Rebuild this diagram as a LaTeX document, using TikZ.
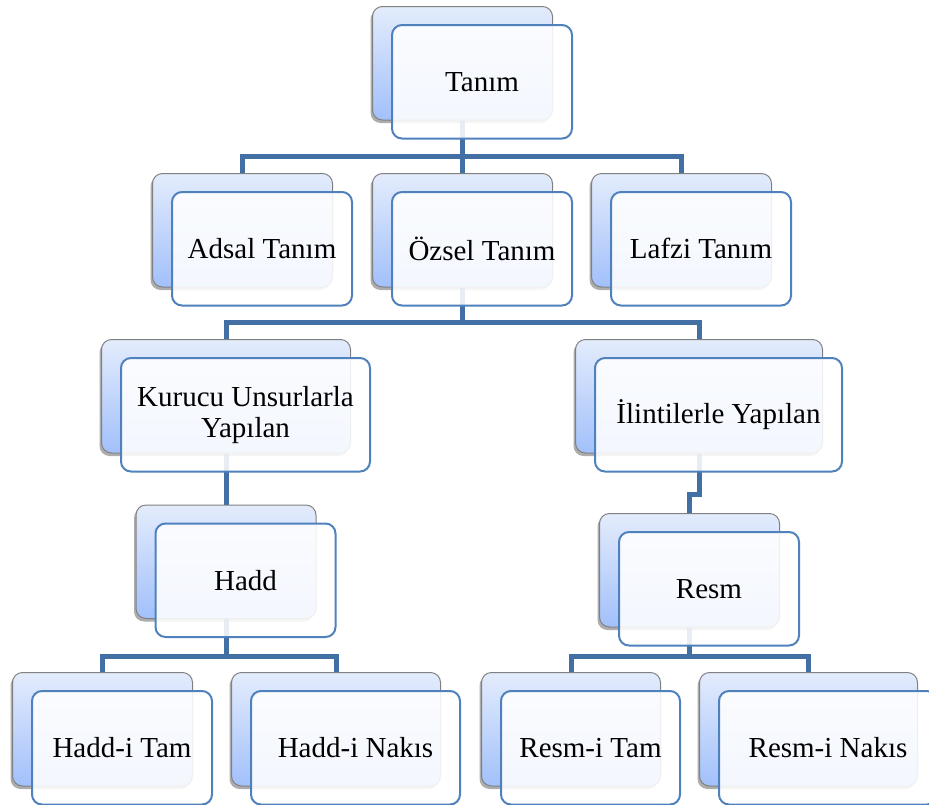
\documentclass[tikz,border=0pt]{standalone}
\usepackage{fontspec}
\setmainfont{Liberation Serif}
\newfontfamily\tnrfont{Liberation Serif}
\usetikzlibrary{shadows,calc}
\pgfdeclarelayer{bg}
\pgfsetlayers{bg,main}
\definecolor{connc}{HTML}{4270A4}
\definecolor{frontc}{HTML}{4F81BD}
\definecolor{backtop}{HTML}{E3ECFC}
\definecolor{backbot}{HTML}{A2C0FB}
\tikzset{
  conn/.style={draw=connc, line width=5pt, line join=miter, line cap=butt},
  backbox/.style={rectangle, rounded corners=10pt, draw=black!50, line width=1pt,
    top color=backtop, bottom color=backbot, anchor=north west,
    drop shadow={shadow xshift=-2pt, shadow yshift=-3pt, opacity=0.4, fill=black!80}},
  frontbox/.style={rectangle, rounded corners=10pt, draw=frontc, line width=2pt,
    fill=white, fill opacity=0.88, text opacity=1, text=black, anchor=north west,
    align=center, font=\tnrfont\fontsize{29}{31}\selectfont, inner sep=0pt}
}
\newcommand{\twobox}[5]{%
  \node[backbox, minimum width=#4 pt, minimum height=113.5pt] (#1B) at (#2,#3) {};
  \node[frontbox, minimum width=#4 pt, minimum height=113.5pt] (#1) at (#2+19,#3+18) {#5};
}
\begin{document}
\begin{tikzpicture}[x=1pt,y=-1pt]
\useasboundingbox (0,0) rectangle (929,804);
\clip (0,0) rectangle (929,804);
% level 1
\twobox{tanim}{372}{6}{180}{Tanım}
% level 2
\twobox{adsal}{152}{173}{180}{Adsal Tanım}
\twobox{ozsel}{372}{173}{180}{Özsel Tanım}
\twobox{lafzi}{591}{173}{180}{Lafzi Tanım}
% level 3
\twobox{kurucu}{101}{339}{249}{Kurucu Unsurlarla\\Yapılan}
\twobox{ilinti}{575}{339}{247}{İlintilerle Yapılan}
% level 4
\twobox{hadd}{135.5}{504.5}{180}{Hadd}
\twobox{resm}{599}{513}{180}{Resm}
% level 5
\twobox{haddtam}{12}{672}{180}{Hadd-i Tam}
\twobox{haddnakis}{231}{672}{209}{Hadd-i Nakıs}
\twobox{resmtam}{481}{672}{179}{Resm-i Tam}
\twobox{resmnakis}{699}{672}{218}{Resm-i Nakıs}
% bus coordinates
\coordinate (bA) at (0,156);
\coordinate (bB) at (0,322);
\coordinate (bC) at (0,494);
\coordinate (bD) at (0,656);
\coordinate (bE) at (0,656);
\begin{pgfonlayer}{bg}
  \draw[conn] (tanimB.south) -- (ozselB.north);
  \draw[conn] (adsalB.north) |- (lafziB.north |- bA) -- (lafziB.north);
  \draw[conn] (ozselB.south) -- (ozselB.south |- bB);
  \draw[conn] (kurucuB.north) |- (ilintiB.north |- bB) -- (ilintiB.north);
  \draw[conn] (kurucuB.south) -- (haddB.north);
  \draw[conn] (ilintiB.south) -- (ilintiB.south |- bC) -| (resmB.north);
  \draw[conn] (haddB.south) -- (haddB.south |- bD);
  \draw[conn] (haddtamB.north) |- (haddnakisB.north |- bD) -- (haddnakisB.north);
  \draw[conn] (resmB.south) -- (resmB.south |- bE);
  \draw[conn] (resmtamB.north) |- (resmnakisB.north |- bE) -- (resmnakisB.north);
\end{pgfonlayer}
\end{tikzpicture}
\end{document}
